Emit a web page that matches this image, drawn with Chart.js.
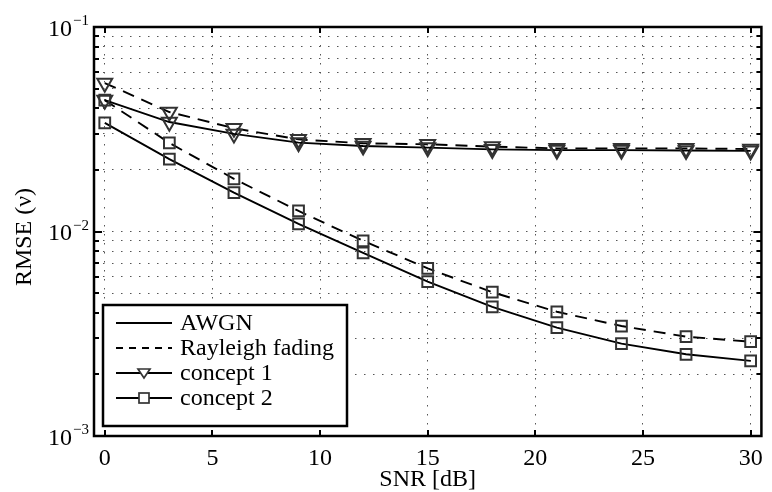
<!DOCTYPE html>
<html>
<head>
<meta charset="utf-8">
<script src="https://cdn.jsdelivr.net/npm/chart.js@4/dist/chart.umd.min.js"></script>
<style>
  html, body { margin: 0; padding: 0; background: #fff; }
  #wrap { width: 772px; height: 492px; }
</style>
</head>
<body>
<div id="wrap"><canvas id="c" width="772" height="492"></canvas></div>
<script>
// SNR points (dB)
const snr = [0, 3, 6, 9, 12, 15, 18, 21, 24, 27, 30];

// RMSE of the frequency estimate
const concept1Awgn     = [0.0439, 0.0343, 0.0300, 0.0272, 0.0262, 0.0257, 0.0252, 0.0250, 0.0250, 0.0249, 0.0248];
const concept1Rayleigh = [0.0532, 0.0384, 0.0320, 0.0282, 0.0270, 0.0267, 0.0260, 0.0255, 0.0255, 0.0255, 0.0253];
const concept2Awgn     = [0.0340, 0.0226, 0.0155, 0.0109, 0.00787, 0.00569, 0.00428, 0.00339, 0.00283, 0.00251, 0.00233];
const concept2Rayleigh = [0.0439, 0.0271, 0.0181, 0.0126, 0.0090, 0.0066, 0.00505, 0.00405, 0.00345, 0.00306, 0.00289];

// axis ticks
const xTicks = [0, 5, 10, 15, 20, 25, 30];
const yDecades = [0.001, 0.01, 0.1];
const yDecadeExponents = ['\u22123', '\u22122', '\u22121'];
const yGrid = [0.001, 0.002, 0.003, 0.004, 0.005, 0.006, 0.007, 0.008, 0.009,
               0.01, 0.02, 0.03, 0.04, 0.05, 0.06, 0.07, 0.08, 0.09, 0.1];

// legend entries
const legendLabels = ['AWGN', 'Rayleigh fading', 'concept 1', 'concept 2'];

const FONT = '"Liberation Serif", "Times New Roman", serif';
const LINE_DASH = [12, 8];
const MARK_COLOR = '#333';

function pts(ys) { return snr.map((x, i) => ({ x, y: ys[i] })); }

function series(label, ys, dashed, marker) {
  const tri = marker === 'tri';
  return {
    label,
    data: pts(ys),
    borderColor: '#000',
    borderWidth: 1.9,
    borderDash: dashed ? LINE_DASH : [],
    tension: 0,
    pointStyle: tri ? 'triangle' : 'rect',
    pointRotation: tri ? 180 : 0,
    pointRadius: tri ? 8.6 : 7.6,
    pointHoverRadius: tri ? 8.6 : 7.6,
    pointBorderColor: MARK_COLOR,
    pointBorderWidth: 2,
    pointBackgroundColor: 'rgba(0,0,0,0)',
    fill: false
  };
}

function drawDownTriangle(ctx, cx, cy, w, h) {
  ctx.beginPath();
  ctx.moveTo(cx - w / 2, cy - h / 2);
  ctx.lineTo(cx + w / 2, cy - h / 2);
  ctx.lineTo(cx, cy + h / 2);
  ctx.closePath();
  ctx.stroke();
}

const decorations = {
  id: 'decorations',
  afterDraw(chart) {
    const { ctx, chartArea: a, scales: { x, y } } = chart;
    ctx.save();
    ctx.setLineDash([]);
    ctx.strokeStyle = '#000';
    ctx.fillStyle = '#000';

    // inward tick marks on all four sides
    ctx.lineWidth = 2;
    ctx.beginPath();
    xTicks.forEach(v => {
      const px = Math.round(x.getPixelForValue(v));
      ctx.moveTo(px, a.bottom); ctx.lineTo(px, a.bottom - 6);
      ctx.moveTo(px, a.top); ctx.lineTo(px, a.top + 6);
    });
    yGrid.forEach(v => {
      const len = yDecades.includes(v) ? 8 : 5;
      const py = Math.round(y.getPixelForValue(v));
      ctx.moveTo(a.left, py); ctx.lineTo(a.left + len, py);
      ctx.moveTo(a.right, py); ctx.lineTo(a.right - len, py);
    });
    ctx.stroke();

    // plot frame
    ctx.lineWidth = 2.5;
    ctx.strokeRect(a.left, a.top, a.right - a.left, a.bottom - a.top);

    // y tick labels: 10 with superscript exponent
    yDecades.forEach((v, i) => {
      const py = y.getPixelForValue(v);
      ctx.font = '24px ' + FONT;
      ctx.textAlign = 'right';
      ctx.textBaseline = 'alphabetic';
      ctx.fillText('10', 72, py + 8.5);
      ctx.font = '15px ' + FONT;
      ctx.textAlign = 'left';
      ctx.fillText(yDecadeExponents[i], 73, py - 2);
    });

    // axis titles
    ctx.font = '24px ' + FONT;
    ctx.textAlign = 'center';
    ctx.textBaseline = 'middle';
    ctx.fillText('SNR [dB]', (a.left + a.right) / 2, 480);
    ctx.save();
    ctx.translate(25, 237);
    ctx.rotate(-Math.PI / 2);
    ctx.fillText('RMSE (\u03bd)', 0, 0);
    ctx.restore();

    // legend
    const bx = 103, by = 305, bw = 244, bh = 121;
    ctx.fillStyle = '#fff';
    ctx.fillRect(bx, by, bw, bh);
    ctx.lineWidth = 2.5;
    ctx.strokeStyle = '#000';
    ctx.strokeRect(bx, by, bw, bh);
    const rowY = [323, 348, 373, 398];
    const x0 = 116, x1 = 172, xm = 144;
    legendLabels.forEach((lab, i) => {
      const ry = rowY[i];
      ctx.strokeStyle = '#000';
      ctx.lineWidth = 2;
      ctx.setLineDash(i === 1 ? [7, 6] : []);
      ctx.beginPath();
      ctx.moveTo(x0, ry); ctx.lineTo(x1, ry);
      ctx.stroke();
      ctx.setLineDash([]);
      if (i === 2) {
        ctx.fillStyle = '#fff';
        ctx.beginPath();
        ctx.moveTo(xm - 6, ry - 4); ctx.lineTo(xm + 6, ry - 4); ctx.lineTo(xm, ry + 5); ctx.closePath();
        ctx.fill();
        ctx.strokeStyle = MARK_COLOR; ctx.lineWidth = 1.7;
        drawDownTriangle(ctx, xm, ry + 0.5, 12, 9);
      } else if (i === 3) {
        ctx.fillStyle = '#fff';
        ctx.fillRect(xm - 5, ry - 5, 10, 10);
        ctx.strokeStyle = MARK_COLOR; ctx.lineWidth = 1.7;
        ctx.strokeRect(xm - 5, ry - 5, 10, 10);
      }
      ctx.fillStyle = '#000';
      ctx.font = '24px ' + FONT;
      ctx.textAlign = 'left';
      ctx.textBaseline = 'middle';
      ctx.fillText(lab, 180, ry + 1);
    });

    ctx.restore();
  }
};

new Chart(document.getElementById('c'), {
  type: 'line',
  data: {
    datasets: [
      series('concept 1, AWGN', concept1Awgn, false, 'tri'),
      series('concept 1, Rayleigh fading', concept1Rayleigh, true, 'tri'),
      series('concept 2, AWGN', concept2Awgn, false, 'sq'),
      series('concept 2, Rayleigh fading', concept2Rayleigh, true, 'sq')
    ]
  },
  options: {
    responsive: false,
    devicePixelRatio: 1,
    animation: false,
    layout: { padding: { top: 27, right: 4, left: 0, bottom: 0 } },
    plugins: { legend: { display: false }, tooltip: { enabled: false } },
    scales: {
      x: {
        type: 'linear',
        min: -0.5,
        max: 30.5,
        afterBuildTicks: s => { s.ticks = xTicks.map(v => ({ value: v })); },
        afterFit: s => { s.height = 56; },
        grid: { color: '#555', lineWidth: 1, drawTicks: false },
        border: { display: false, dash: [1.5, 7.5] },
        ticks: {
          color: '#000',
          font: { family: FONT, size: 24 },
          padding: 8,
          maxRotation: 0,
          autoSkip: false
        }
      },
      y: {
        type: 'logarithmic',
        min: 0.001,
        max: 0.1,
        afterBuildTicks: s => { s.ticks = yGrid.map(v => ({ value: v })); },
        afterFit: s => { s.width = 94; },
        grid: { color: '#555', lineWidth: 1, drawTicks: false },
        border: { display: false, dash: [1.5, 7.5] },
        ticks: { display: false }
      }
    }
  },
  plugins: [decorations]
});
</script>
</body>
</html>
